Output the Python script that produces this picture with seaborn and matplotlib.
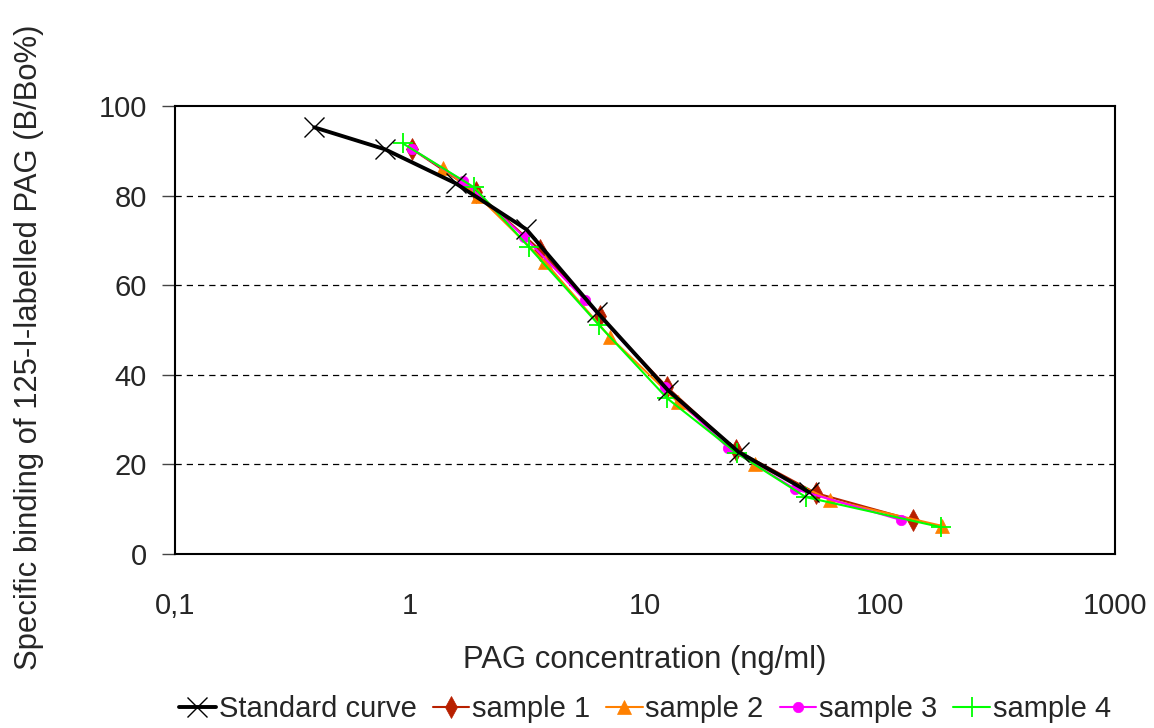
import numpy as np
import pandas as pd
import matplotlib
matplotlib.use("Agg")
import matplotlib.pyplot as plt
import seaborn as sns
from matplotlib.ticker import FixedLocator, FixedFormatter, NullLocator

# values (PAG ng/ml vs B/Bo %)
std_x = [0.39, 0.78, 1.56, 3.125, 6.25, 12.5, 25, 50]
std_y = [95.3, 90.4, 82.8, 72.5, 54.0, 36.6, 22.8, 13.8]

s1_x = [1.02, 1.91, 3.57, 6.43, 12.4, 24.4, 53.4, 138]
s1_y = [90.4, 80.8, 67.9, 53.1, 37.3, 23.2, 13.6, 7.6]

s2_x = [1.38, 1.95, 3.75, 7.1, 13.8, 29.3, 61.3, 183]
s2_y = [86.2, 79.9, 65.2, 48.4, 33.9, 20.1, 12.1, 6.3]

s3_x = [1.02, 1.68, 3.06, 5.55, 12.1, 22.6, 43.5, 123]
s3_y = [90.4, 83.3, 70.8, 56.7, 37.3, 23.7, 14.5, 7.6]

s4_x = [0.93, 1.87, 3.21, 6.37, 12.4, 24.6, 48.4, 182]
s4_y = [91.7, 81.9, 68.5, 51.1, 34.8, 22.5, 12.7, 6.0]

x_ticks = [0.1, 1, 10, 100, 1000]
x_tick_labels = ["0,1", "1", "10", "100", "1000"]
y_ticks = [0, 20, 40, 60, 80, 100]

FS = 21
LABEL_FS = 22.3

sns.set_style("white")
plt.rcParams["font.family"] = ["Liberation Sans", "DejaVu Sans"]

fig = plt.figure(figsize=(11.54, 7.28), dpi=100)
ax = fig.add_axes([0.152, 0.239, 0.814, 0.615])

samples = [
    ("sample 1", s1_x, s1_y, "#B82000", "d", 11),
    ("sample 2", s2_x, s2_y, "#FF8000", "^", 10),
    ("sample 3", s3_x, s3_y, "#FF00FF", "o", 7.5),
    ("sample 4", s4_x, s4_y, "#00FF00", "+", 14),
]

for name, xs, ys, col, mk, ms in samples:
    df = pd.DataFrame({"x": xs, "y": ys})
    sns.lineplot(data=df, x="x", y="y", ax=ax, sort=False, color=col,
                 linewidth=1.5, marker=mk, markersize=ms,
                 markeredgecolor=col, markeredgewidth=1.3 if mk == "+" else 0.5,
                 label=name, zorder=3)

std_df = pd.DataFrame({"x": std_x, "y": std_y})
sns.lineplot(data=std_df, x="x", y="y", ax=ax, sort=False, color="black",
             linewidth=2.8, marker="x", markersize=14, markeredgewidth=1.0,
             markeredgecolor="black", label="Standard curve", zorder=4)

ax.set_xscale("log")
ax.set_xlim(0.1, 1000)
ax.set_ylim(0, 100)
ax.xaxis.set_major_locator(FixedLocator(x_ticks))
ax.xaxis.set_major_formatter(FixedFormatter(x_tick_labels))
ax.xaxis.set_minor_locator(NullLocator())
ax.set_yticks(y_ticks)
ax.tick_params(axis="x", labelsize=FS, length=0, pad=27)
ax.tick_params(axis="y", labelsize=FS, length=9.5, width=1.0, color="#444444",
               direction="out", left=True, pad=11)

for yv in y_ticks[1:-1]:
    ax.axhline(yv, color="black", linestyle=(0, (5, 4)), linewidth=0.9, zorder=1)

for sp in ax.spines.values():
    sp.set_color("black")
    sp.set_linewidth(1.5)

ax.set_xlabel("")
ax.set_ylabel("")
fig.text(0.152 + 0.814 / 2, 0.093, "PAG concentration (ng/ml)",
         ha="center", va="center", fontsize=LABEL_FS)
fig.text(0.025, 0.080, "Specific binding of 125-I-labelled PAG (B/Bo%)",
         rotation=90, ha="center", va="bottom", fontsize=LABEL_FS)

h, l = ax.get_legend_handles_labels()
ax.get_legend().remove()
order = [l.index("Standard curve")] + [l.index(s[0]) for s in samples]
fig.legend([h[i] for i in order], [l[i] for i in order], loc="center",
           bbox_to_anchor=(0.559, 0.026), ncol=5, frameon=False, fontsize=FS,
           handlelength=1.25, handletextpad=0.1, columnspacing=0.55,
           borderpad=0, borderaxespad=0)

fig.savefig("out.png", dpi=100)
